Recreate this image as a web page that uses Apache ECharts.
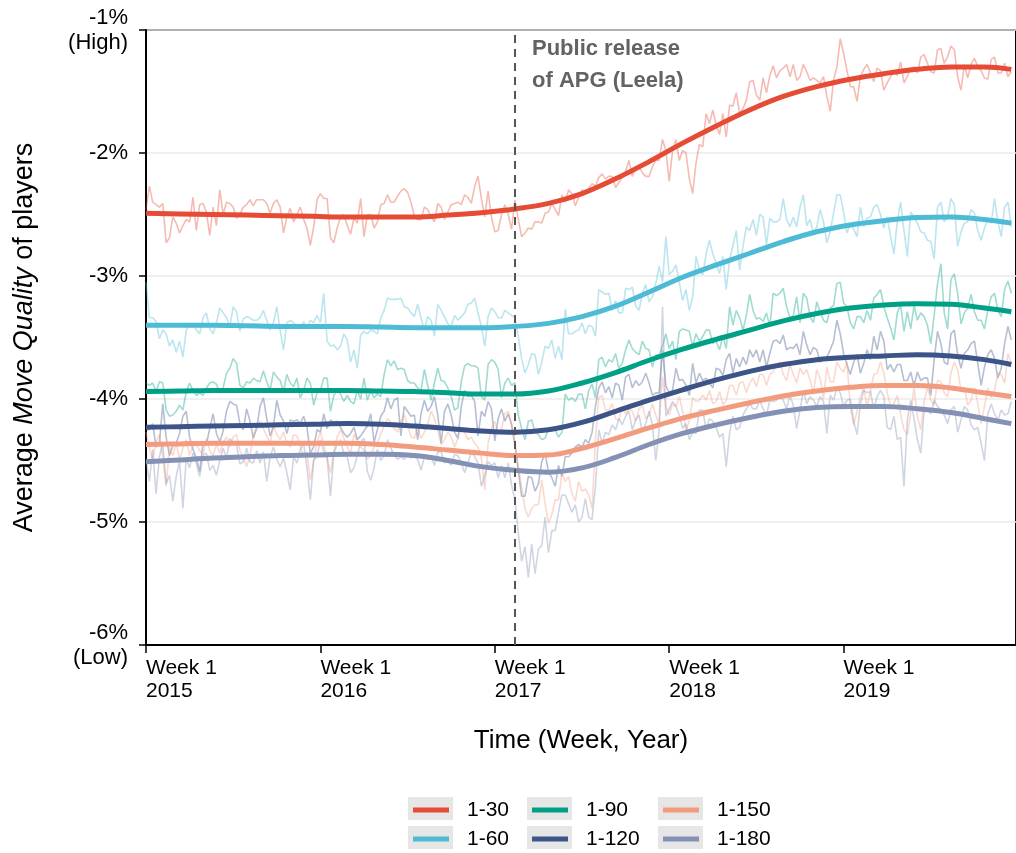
<!DOCTYPE html>
<html>
<head>
<meta charset="utf-8">
<title>Average Move Quality of players</title>
<script src="https://cdn.jsdelivr.net/npm/echarts@6/dist/echarts.min.js"></script>
<style>
html, body { margin: 0; padding: 0; background: #fff; }
#chartmain { width: 1016px; height: 853px; }
</style>
</head>
<body>
<div id="chartmain"></div>
<script>
// group names and colours
var seriesNames = ['1-30', '1-60', '1-90', '1-120', '1-150', '1-180'];
var colors = ['#E64B35', '#4DBBD5', '#00A087', '#3C5488', '#F39B7F', '#8491B4'];

// x axis: weeks counted from week 1 of 2015
var xTickLabels = ['Week 1\n2015', 'Week 1\n2016', 'Week 1\n2017', 'Week 1\n2018', 'Week 1\n2019'];
var yTickValues = [-6, -5, -4, -3, -2, -1];
var yTickLabels = ['-6%\n(Low)', '-5%', '-4%', '-3%', '-2%', '-1%\n(High)'];
var releaseWeek = 110;

// weekly averages (index = week)
var raw30 = [
  -2.46,-2.27,-2.40,-2.42,-2.44,-2.41,-2.73,-2.69,-2.52,-2.57,-2.65,-2.59,-2.54,
  -2.56,-2.36,-2.63,-2.42,-2.41,-2.48,-2.67,-2.44,-2.59,-2.30,-2.50,-2.40,-2.41,
  -2.44,-2.53,-2.50,-2.44,-2.42,-2.38,-2.43,-2.38,-2.38,-2.38,-2.41,-2.49,-2.41,
  -2.38,-2.44,-2.65,-2.52,-2.45,-2.56,-2.50,-2.44,-2.54,-2.61,-2.75,-2.60,-2.38,
  -2.33,-2.37,-2.37,-2.69,-2.73,-2.61,-2.52,-2.50,-2.59,-2.66,-2.53,-2.57,-2.37,
  -2.68,-2.50,-2.50,-2.61,-2.56,-2.42,-2.41,-2.34,-2.40,-2.40,-2.35,-2.31,-2.29,
  -2.32,-2.40,-2.51,-2.54,-2.54,-2.44,-2.46,-2.52,-2.56,-2.41,-2.44,-2.54,-2.48,
  -2.42,-2.41,-2.40,-2.42,-2.34,-2.36,-2.41,-2.27,-2.19,-2.37,-2.52,-2.31,-2.52,
  -2.64,-2.63,-2.50,-2.42,-2.50,-2.62,-2.38,-2.54,-2.68,-2.65,-2.61,-2.62,-2.56,
  -2.56,-2.57,-2.49,-2.48,-2.41,-2.46,-2.51,-2.34,-2.40,-2.30,-2.33,-2.43,-2.36,
  -2.30,-2.33,-2.29,-2.25,-2.27,-2.20,-2.17,-2.21,-2.19,-2.19,-2.28,-2.24,-2.20,
  -2.15,-2.06,-2.19,-2.12,-2.11,-2.16,-2.19,-2.19,-2.11,-2.06,-2.06,-1.89,-1.98,
  -2.23,-1.98,-1.89,-2.06,-1.98,-2.00,-2.21,-2.33,-2.08,-1.93,-1.95,-1.68,-1.76,
  -1.65,-1.77,-1.85,-1.68,-1.87,-1.61,-1.62,-1.51,-1.68,-1.64,-1.57,-1.42,-1.41,
  -1.53,-1.57,-1.39,-1.51,-1.37,-1.29,-1.39,-1.33,-1.31,-1.28,-1.38,-1.28,-1.41,
  -1.38,-1.28,-1.34,-1.41,-1.39,-1.41,-1.43,-1.38,-1.54,-1.66,-1.41,-1.30,-1.07,
  -1.19,-1.33,-1.46,-1.46,-1.58,-1.38,-1.32,-1.28,-1.35,-1.42,-1.31,-1.33,-1.49,
  -1.43,-1.38,-1.33,-1.37,-1.26,-1.43,-1.38,-1.31,-1.30,-1.35,-1.22,-1.20,-1.27,
  -1.34,-1.35,-1.16,-1.15,-1.27,-1.22,-1.13,-1.16,-1.38,-1.49,-1.28,-1.39,-1.28,
  -1.23,-1.30,-1.33,-1.39,-1.40,-1.24,-1.22,-1.35,-1.35,-1.27,-1.38,-1.34
];
var raw60 = [
  -3.05,-3.34,-3.34,-3.37,-3.51,-3.44,-3.47,-3.57,-3.52,-3.62,-3.53,-3.66,-3.44,
  -3.40,-3.39,-3.44,-3.47,-3.34,-3.30,-3.43,-3.47,-3.38,-3.26,-3.30,-3.34,-3.41,
  -3.25,-3.29,-3.45,-3.35,-3.33,-3.34,-3.36,-3.36,-3.34,-3.28,-3.36,-3.44,-3.38,
  -3.25,-3.44,-3.60,-3.38,-3.36,-3.38,-3.41,-3.43,-3.37,-3.43,-3.36,-3.38,-3.32,
  -3.38,-3.14,-3.53,-3.57,-3.56,-3.60,-3.57,-3.47,-3.52,-3.70,-3.60,-3.75,-3.48,
  -3.45,-3.47,-3.44,-3.45,-3.47,-3.34,-3.28,-3.18,-3.19,-3.19,-3.19,-3.18,-3.25,
  -3.26,-3.30,-3.33,-3.23,-3.34,-3.44,-3.33,-3.36,-3.49,-3.23,-3.28,-3.33,-3.39,
  -3.41,-3.32,-3.36,-3.33,-3.30,-3.23,-3.22,-3.18,-3.30,-3.41,-3.57,-3.33,-3.26,
  -3.29,-3.34,-3.34,-3.28,-3.30,-3.32,-3.34,-3.49,-3.67,-3.79,-3.72,-3.63,-3.64,
  -3.80,-3.70,-3.57,-3.59,-3.52,-3.67,-3.57,-3.68,-3.27,-3.47,-3.47,-3.45,-3.44,
  -3.38,-3.47,-3.40,-3.41,-3.49,-3.11,-3.13,-3.15,-3.14,-3.28,-3.20,-3.30,-3.30,
  -3.10,-3.11,-3.09,-3.24,-3.28,-3.14,-3.07,-3.21,-3.17,-3.06,-2.92,-3.05,-2.68,
  -2.99,-2.96,-2.91,-3.05,-3.20,-3.11,-3.28,-3.17,-2.84,-2.95,-2.99,-2.82,-2.71,
  -2.82,-2.90,-2.98,-2.84,-3.11,-2.87,-2.75,-2.63,-2.95,-2.76,-2.60,-2.63,-2.54,
  -2.67,-2.50,-2.52,-2.75,-2.53,-2.56,-2.56,-2.54,-2.37,-2.54,-2.60,-2.52,-2.60,
  -2.44,-2.34,-2.59,-2.54,-2.65,-2.60,-2.46,-2.56,-2.73,-2.64,-2.49,-2.34,-2.34,
  -2.48,-2.65,-2.57,-2.62,-2.68,-2.44,-2.60,-2.53,-2.52,-2.44,-2.42,-2.50,-2.61,
  -2.52,-2.68,-2.82,-2.56,-2.40,-2.63,-2.84,-2.48,-2.52,-2.57,-2.64,-2.65,-2.71,
  -2.72,-2.86,-2.44,-2.40,-2.56,-2.52,-2.37,-2.42,-2.76,-2.64,-2.57,-2.56,-2.46,
  -2.49,-2.63,-2.71,-2.61,-2.54,-2.57,-2.37,-2.56,-2.68,-2.44,-2.40,-2.60
];
var raw90 = [
  -3.87,-3.89,-3.87,-3.94,-3.86,-3.87,-4.09,-4.14,-4.13,-4.10,-4.05,-4.09,-3.94,
  -3.87,-3.93,-3.97,-3.95,-3.97,-3.91,-3.87,-3.86,-3.88,-3.95,-3.91,-3.79,-3.75,
  -3.67,-3.71,-3.89,-3.91,-3.86,-3.87,-3.83,-3.85,-3.86,-3.77,-3.86,-3.93,-3.78,
  -3.82,-3.85,-3.94,-3.80,-3.87,-3.90,-3.83,-3.99,-3.93,-3.83,-3.87,-4.05,-3.95,
  -3.93,-3.83,-3.83,-4.10,-3.97,-3.93,-3.96,-4.02,-3.97,-4.02,-4.04,-3.93,-4.00,
  -3.83,-4.01,-3.93,-3.99,-3.96,-3.98,-3.80,-3.68,-3.73,-3.69,-3.76,-3.75,-3.76,
  -3.85,-3.87,-3.87,-3.91,-3.93,-3.76,-3.89,-4.01,-3.87,-3.75,-3.85,-3.86,-3.91,
  -3.98,-4.09,-4.07,-3.86,-3.73,-3.71,-3.73,-3.73,-3.75,-3.98,-4.01,-3.72,-3.68,
  -3.70,-3.76,-3.99,-3.87,-3.83,-3.89,-3.87,-4.13,-4.24,-4.33,-4.18,-4.17,-4.27,
  -4.29,-4.33,-4.32,-4.24,-4.25,-4.25,-4.31,-4.27,-3.96,-4.01,-3.99,-4.02,-3.96,
  -3.96,-4.08,-3.93,-3.88,-3.99,-3.68,-3.66,-3.74,-3.68,-3.70,-3.63,-3.75,-3.71,
  -3.60,-3.52,-3.59,-3.62,-3.64,-3.53,-3.59,-3.60,-3.74,-3.64,-3.64,-3.57,-3.47,
  -3.59,-3.53,-3.68,-3.45,-3.43,-3.44,-3.45,-3.57,-3.47,-3.53,-3.49,-3.44,-3.44,
  -3.55,-3.53,-3.60,-3.49,-3.59,-3.25,-3.40,-3.28,-3.34,-3.44,-3.32,-3.15,-3.28,
  -3.35,-3.34,-3.37,-3.30,-3.41,-3.14,-3.16,-3.14,-3.10,-3.25,-3.34,-3.32,-3.17,
  -3.38,-3.14,-3.18,-3.33,-3.38,-3.21,-3.29,-3.36,-3.38,-3.26,-3.24,-3.06,-3.05,
  -3.22,-3.25,-3.38,-3.43,-3.33,-3.33,-3.38,-3.28,-3.36,-3.18,-3.15,-3.11,-3.25,
  -3.34,-3.42,-3.52,-3.30,-3.23,-3.45,-3.29,-3.43,-3.24,-3.36,-3.30,-3.33,-3.40,
  -3.55,-3.32,-3.06,-2.90,-3.30,-3.43,-3.03,-2.98,-3.14,-3.39,-3.30,-3.26,-3.15,
  -3.29,-3.36,-3.36,-3.43,-3.28,-3.17,-3.14,-3.28,-3.33,-3.11,-3.04,-3.14
];
var raw120 = [
  -4.25,-4.25,-4.20,-4.39,-4.36,-4.04,-4.31,-4.46,-4.38,-4.36,-4.28,-4.14,-4.10,
  -4.31,-4.41,-4.48,-4.59,-4.36,-4.37,-4.24,-4.12,-4.28,-4.35,-4.26,-4.10,-4.02,
  -4.04,-4.05,-4.20,-4.25,-4.08,-4.18,-4.32,-4.24,-4.06,-3.99,-4.16,-4.30,-4.22,
  -4.01,-4.13,-4.18,-4.28,-4.17,-4.18,-4.17,-4.20,-4.14,-4.23,-4.44,-4.39,-4.25,
  -4.27,-4.12,-4.24,-4.17,-4.19,-4.18,-4.23,-4.28,-4.31,-4.28,-4.23,-4.33,-4.30,
  -4.26,-4.22,-4.12,-4.35,-4.25,-4.14,-4.10,-3.99,-4.08,-4.01,-3.99,-4.30,-4.06,
  -4.10,-4.14,-4.13,-4.33,-4.12,-4.01,-4.10,-4.06,-3.98,-4.13,-4.36,-4.10,-4.04,
  -4.13,-4.27,-4.32,-4.06,-3.93,-3.98,-3.97,-4.02,-4.30,-4.10,-4.14,-4.02,-4.08,
  -4.34,-4.16,-4.08,-4.18,-4.12,-4.21,-4.37,-4.58,-4.79,-4.79,-4.63,-4.64,-4.75,
  -4.69,-4.51,-4.44,-4.59,-4.64,-4.71,-4.54,-4.63,-4.47,-4.47,-4.44,-4.39,-4.37,
  -4.39,-4.33,-4.36,-4.27,-4.06,-3.91,-3.86,-3.95,-3.90,-3.99,-3.87,-3.89,-4.01,
  -3.82,-3.80,-3.91,-3.85,-3.89,-3.86,-3.79,-3.87,-3.97,-3.95,-3.95,-3.60,-3.89,
  -3.95,-3.93,-3.75,-3.85,-3.84,-3.89,-3.97,-3.71,-3.87,-3.79,-3.85,-3.83,-3.87,
  -3.91,-3.75,-3.76,-3.81,-3.68,-3.63,-3.79,-3.67,-3.74,-3.66,-3.72,-3.60,-3.66,
  -3.60,-3.70,-3.60,-3.74,-3.63,-3.53,-3.52,-3.55,-3.48,-3.60,-3.58,-3.59,-3.55,
  -3.64,-3.45,-3.56,-3.64,-3.58,-3.60,-3.70,-3.68,-3.66,-3.60,-3.53,-3.36,-3.47,
  -3.63,-3.72,-3.80,-3.70,-3.64,-3.79,-3.71,-3.60,-3.68,-3.49,-3.60,-3.45,-3.53,
  -3.76,-3.72,-3.78,-3.72,-3.72,-3.85,-3.85,-3.78,-3.89,-3.78,-3.85,-3.83,-3.83,
  -3.97,-3.68,-3.45,-3.55,-3.70,-3.72,-3.47,-3.44,-3.64,-3.75,-3.63,-3.60,-3.55,
  -3.53,-3.71,-3.89,-3.74,-3.64,-3.60,-3.67,-3.83,-3.75,-3.55,-3.41,-3.52
];
var raw150 = [
  -4.27,-4.40,-4.49,-4.35,-4.29,-4.47,-4.71,-4.39,-4.46,-4.36,-4.49,-4.40,-4.33,
  -4.46,-4.38,-4.37,-4.42,-4.45,-4.32,-4.42,-4.46,-4.37,-4.44,-4.35,-4.31,-4.39,
  -4.31,-4.29,-4.42,-4.47,-4.55,-4.46,-4.29,-4.22,-4.18,-4.24,-4.30,-4.36,-4.22,
  -4.29,-4.33,-4.27,-4.36,-4.39,-4.29,-4.30,-4.38,-4.47,-4.43,-4.66,-4.50,-4.35,
  -4.27,-4.37,-4.48,-4.60,-4.43,-4.31,-4.25,-4.32,-4.39,-4.44,-4.29,-4.34,-4.39,
  -4.42,-4.49,-4.46,-4.39,-4.36,-4.28,-4.22,-4.16,-4.19,-4.24,-4.27,-4.18,-4.13,
  -4.21,-4.31,-4.32,-4.23,-4.32,-4.27,-4.20,-4.10,-4.16,-4.26,-4.37,-4.33,-4.27,
  -4.31,-4.39,-4.32,-4.24,-4.27,-4.33,-4.31,-4.36,-4.39,-4.48,-4.74,-4.36,-4.24,
  -4.18,-4.29,-4.24,-4.12,-4.10,-4.20,-4.36,-4.55,-4.71,-4.89,-4.96,-4.89,-4.86,
  -4.86,-4.66,-4.85,-5.01,-4.94,-4.82,-4.82,-4.60,-4.67,-4.63,-4.77,-4.83,-4.67,
  -4.75,-4.73,-4.78,-4.89,-4.33,-3.99,-3.97,-4.09,-4.09,-4.04,-4.16,-4.17,-4.06,
  -4.12,-4.08,-4.10,-4.18,-4.08,-4.05,-4.16,-4.13,-4.04,-4.13,-4.21,-3.82,-4.06,
  -4.13,-4.04,-4.06,-3.98,-4.10,-4.25,-4.18,-3.99,-4.02,-4.01,-3.97,-4.01,-3.93,
  -4.04,-4.02,-3.94,-4.05,-4.01,-3.89,-3.89,-3.97,-3.87,-3.86,-3.95,-3.87,-3.83,
  -3.90,-3.80,-3.80,-3.89,-3.80,-3.78,-3.72,-3.70,-3.80,-3.85,-3.72,-3.80,-3.87,
  -3.75,-3.80,-3.76,-3.85,-3.95,-3.76,-3.83,-4.00,-3.74,-3.86,-3.86,-3.70,-3.75,
  -3.78,-3.70,-4.06,-4.21,-4.10,-3.98,-3.91,-4.06,-3.94,-3.80,-3.79,-3.70,-3.79,
  -3.95,-4.06,-4.04,-3.97,-4.12,-4.25,-4.29,-4.12,-3.91,-4.14,-4.25,-4.02,-3.90,
  -4.01,-4.05,-3.85,-3.86,-3.95,-3.98,-3.79,-3.70,-3.76,-3.93,-3.91,-4.05,-4.01,
  -3.91,-4.04,-4.20,-4.06,-3.91,-3.99,-3.93,-3.79,-3.80,-3.87,-3.63,-3.71
];
var raw180 = [
  -4.50,-4.67,-4.41,-4.77,-4.47,-4.36,-4.69,-4.62,-4.83,-4.63,-4.50,-4.89,-4.48,
  -4.56,-4.44,-4.52,-4.63,-4.46,-4.44,-4.58,-4.54,-4.62,-4.50,-4.40,-4.48,-4.32,
  -4.36,-4.37,-4.53,-4.51,-4.40,-4.51,-4.52,-4.42,-4.52,-4.43,-4.67,-4.47,-4.39,
  -4.49,-4.55,-4.48,-4.60,-4.74,-4.47,-4.52,-4.41,-4.36,-4.56,-4.82,-4.50,-4.47,
  -4.33,-4.43,-4.47,-4.79,-4.44,-4.37,-4.33,-4.45,-4.47,-4.60,-4.56,-4.46,-4.35,
  -4.32,-4.59,-4.66,-4.56,-4.41,-4.50,-4.46,-4.33,-4.40,-4.46,-4.49,-4.47,-4.49,
  -4.45,-4.48,-4.47,-4.49,-4.58,-4.47,-4.49,-4.47,-4.54,-4.43,-4.43,-4.52,-4.50,
  -4.54,-4.45,-4.46,-4.52,-4.60,-4.52,-4.43,-4.47,-4.52,-4.71,-4.62,-4.51,-4.54,
  -4.52,-4.64,-4.54,-4.64,-4.52,-4.70,-4.82,-5.09,-5.32,-5.20,-5.45,-5.18,-5.42,
  -5.22,-5.19,-4.96,-5.25,-5.07,-5.07,-4.92,-4.78,-4.78,-4.85,-4.92,-4.86,-5.00,
  -4.96,-4.81,-4.96,-4.98,-4.71,-4.25,-4.36,-4.27,-4.29,-4.21,-4.25,-4.16,-4.21,
  -4.14,-4.10,-4.25,-4.17,-4.13,-4.27,-4.20,-4.10,-4.21,-4.50,-4.25,-3.25,-4.14,
  -4.08,-4.02,-4.06,-4.13,-4.24,-4.20,-4.33,-4.27,-4.28,-4.09,-4.09,-4.25,-4.16,
  -4.18,-4.23,-4.31,-4.28,-4.55,-4.28,-4.14,-4.25,-4.23,-4.13,-4.08,-4.04,-4.08,
  -4.08,-4.01,-4.08,-4.13,-4.01,-4.02,-4.01,-3.97,-4.01,-4.08,-3.97,-4.05,-4.24,
  -4.09,-3.93,-4.04,-3.98,-4.01,-4.06,-3.98,-4.02,-4.28,-3.97,-4.01,-3.91,-3.95,
  -4.06,-4.01,-4.00,-4.18,-4.29,-4.04,-3.93,-3.95,-3.94,-4.08,-3.98,-3.93,-3.98,
  -4.23,-4.25,-4.14,-4.33,-4.31,-4.71,-4.17,-4.01,-4.16,-4.33,-4.44,-4.10,-4.09,
  -4.12,-4.01,-4.06,-4.09,-4.13,-4.20,-4.09,-4.06,-4.27,-4.17,-4.06,-4.09,-4.21,
  -4.25,-4.23,-4.36,-4.50,-4.12,-4.04,-4.12,-4.17,-4.09,-4.13,-4.12,-4.02
];

// smoothed trend, read every 10 weeks
var smoothWeeks = [0, 10, 20, 30, 40, 50, 60, 70, 80, 90, 100, 110, 120, 130, 140, 150, 160, 170, 180, 190, 200, 210, 220, 230, 240, 250, 258];
var smooth30  = [-2.49,-2.495,-2.50,-2.505,-2.51,-2.515,-2.52,-2.52,-2.52,-2.505,-2.485,-2.455,-2.41,-2.33,-2.21,-2.07,-1.92,-1.78,-1.65,-1.54,-1.46,-1.40,-1.355,-1.32,-1.30,-1.30,-1.32];
var smooth60  = [-3.40,-3.40,-3.40,-3.405,-3.41,-3.41,-3.41,-3.415,-3.42,-3.42,-3.42,-3.41,-3.385,-3.33,-3.245,-3.13,-3.01,-2.91,-2.815,-2.72,-2.64,-2.585,-2.55,-2.525,-2.52,-2.54,-2.57];
var smooth90  = [-3.94,-3.935,-3.93,-3.93,-3.93,-3.93,-3.93,-3.935,-3.94,-3.95,-3.96,-3.96,-3.935,-3.87,-3.785,-3.685,-3.595,-3.515,-3.44,-3.365,-3.305,-3.26,-3.235,-3.225,-3.23,-3.26,-3.29];
var smooth120 = [-4.23,-4.225,-4.22,-4.215,-4.21,-4.205,-4.20,-4.205,-4.22,-4.24,-4.26,-4.27,-4.25,-4.19,-4.10,-4.01,-3.925,-3.845,-3.775,-3.72,-3.68,-3.66,-3.65,-3.64,-3.65,-3.68,-3.72];
var smooth150 = [-4.37,-4.365,-4.36,-4.36,-4.36,-4.36,-4.36,-4.37,-4.39,-4.415,-4.44,-4.46,-4.455,-4.40,-4.32,-4.235,-4.155,-4.09,-4.03,-3.975,-3.935,-3.905,-3.89,-3.89,-3.91,-3.95,-3.98];
var smooth180 = [-4.51,-4.495,-4.48,-4.47,-4.46,-4.455,-4.45,-4.45,-4.46,-4.50,-4.55,-4.58,-4.595,-4.56,-4.475,-4.37,-4.28,-4.21,-4.15,-4.10,-4.07,-4.06,-4.06,-4.08,-4.11,-4.16,-4.20];

// half width of the confidence band at the same weeks
var band30  = [0.07,0.055,0.045,0.04,0.035,0.035,0.035,0.035,0.035,0.035,0.035,0.035,0.035,0.035,0.035,0.035,0.035,0.035,0.035,0.035,0.035,0.035,0.035,0.04,0.045,0.055,0.07];
var band60  = [0.07,0.055,0.045,0.04,0.035,0.035,0.035,0.035,0.035,0.035,0.035,0.035,0.035,0.035,0.035,0.035,0.035,0.035,0.035,0.035,0.035,0.035,0.035,0.04,0.045,0.055,0.07];
var band90  = [0.08,0.065,0.055,0.045,0.04,0.04,0.04,0.04,0.04,0.04,0.04,0.04,0.04,0.04,0.04,0.04,0.04,0.04,0.04,0.04,0.04,0.04,0.04,0.045,0.055,0.065,0.08];
var band120 = [0.08,0.065,0.055,0.045,0.04,0.04,0.04,0.04,0.04,0.04,0.04,0.04,0.04,0.04,0.04,0.04,0.04,0.04,0.04,0.04,0.04,0.04,0.04,0.045,0.055,0.065,0.08];
var band150 = [0.09,0.07,0.06,0.05,0.045,0.045,0.045,0.045,0.045,0.045,0.045,0.045,0.045,0.045,0.045,0.045,0.045,0.045,0.045,0.045,0.045,0.045,0.045,0.05,0.06,0.07,0.09];
var band180 = [0.11,0.09,0.075,0.065,0.055,0.055,0.055,0.055,0.055,0.055,0.055,0.055,0.055,0.055,0.055,0.055,0.055,0.055,0.055,0.055,0.055,0.055,0.055,0.065,0.075,0.09,0.11];

(function() {

var rawList = [raw30, raw60, raw90, raw120, raw150, raw180];
var smoothList = [smooth30, smooth60, smooth90, smooth120, smooth150, smooth180];
var bandList = [band30, band60, band90, band120, band150, band180];
var font = '"Liberation Sans", Arial, sans-serif';

var series = [];

// faint weekly lines
for (var k = 0; k < rawList.length; k++) {
    series.push({
        name: 'weekly ' + seriesNames[k],
        type: 'line',
        data: rawList[k].map(function(v, i) { return [i, v]; }),
        symbol: 'none',
        silent: true,
        lineStyle: { color: colors[k], width: 1.6, opacity: 0.38 },
        itemStyle: { color: colors[k] },
        z: 1
    });
}
series[0].markLine = {
    symbol: 'none',
    silent: true,
    label: { show: false },
    lineStyle: { color: '#555', type: [8, 6], width: 2, opacity: 1 },
    data: [{ xAxis: releaseWeek }]
};

// grey confidence bands
for (var k = 0; k < smoothList.length; k++) {
    var sm = smoothList[k], bd = bandList[k];
    series.push({
        name: 'lower ' + seriesNames[k],
        type: 'line',
        stack: 'band' + k,
        stackStrategy: 'all',
        smooth: 0.4,
        symbol: 'none',
        silent: true,
        data: sm.map(function(v, i) { return [smoothWeeks[i], v - bd[i]]; }),
        lineStyle: { opacity: 0 },
        z: 2
    });
    series.push({
        name: 'band ' + seriesNames[k],
        type: 'line',
        stack: 'band' + k,
        stackStrategy: 'all',
        smooth: 0.4,
        symbol: 'none',
        silent: true,
        data: sm.map(function(v, i) { return [smoothWeeks[i], 2 * bd[i]]; }),
        lineStyle: { opacity: 0 },
        areaStyle: { color: 'rgba(150,150,150,0.35)' },
        z: 2
    });
}

// trend lines
for (var k = 0; k < smoothList.length; k++) {
    series.push({
        name: seriesNames[k],
        type: 'line',
        smooth: 0.4,
        symbol: 'none',
        data: smoothList[k].map(function(v, i) { return [smoothWeeks[i], v]; }),
        lineStyle: { color: colors[k], width: 5 },
        itemStyle: { color: colors[k] },
        z: 3
    });
}

// legend: 3 columns x 2 rows, read down the columns
var legendCols = [413, 532, 663];
var legendRows = [798, 827];
var legends = [], keys = [];
for (var k = 0; k < seriesNames.length; k++) {
    var col = Math.floor(k / 2), row = k % 2;
    legends.push({
        data: [seriesNames[k]],
        left: legendCols[col],
        top: legendRows[row],
        padding: 0,
        icon: 'rect',
        itemWidth: 36,
        itemHeight: 5,
        selectedMode: false,
        textStyle: { fontSize: 21, color: '#000', fontFamily: font, padding: [0, 0, 0, 13], lineHeight: 24 }
    });
    keys.push({
        type: 'rect',
        left: legendCols[col] - 5,
        top: legendRows[row] - 1,
        shape: { width: 45, height: 23 },
        style: { fill: '#e6e6e6' },
        z: -1
    });
}

var option = {
    animation: false,
    backgroundColor: '#fff',
    textStyle: { fontFamily: font },
    grid: {
        left: 146, right: -3, top: 30, bottom: 208,
        show: true, borderColor: '#000', borderWidth: 2
    },
    legend: legends,
    graphic: keys.concat([{
        type: 'text',
        left: 532,
        top: 33,
        style: {
            text: 'Public release\nof APG (Leela)',
            fill: '#636363',
            font: 'bold 22px ' + font,
            lineHeight: 32
        },
        z: 10
    }]),
    xAxis: {
        type: 'value',
        min: 0,
        max: 259.4,
        interval: 52,
        axisLine: { lineStyle: { color: '#000', width: 2 } },
        axisTick: { length: 8, lineStyle: { color: '#000', width: 1.5 } },
        splitLine: { show: false },
        axisLabel: {
            showMaxLabel: false,
            align: 'left',
            margin: 12,
            fontSize: 21,
            lineHeight: 23,
            color: '#000',
            formatter: function(v) {
                var i = Math.round(v / 52);
                return (Math.abs(v - i * 52) < 0.01 && xTickLabels[i]) ? xTickLabels[i] : '';
            }
        },
        name: 'Time (Week, Year)',
        nameLocation: 'middle',
        nameGap: 83,
        nameTextStyle: { fontSize: 26, color: '#000' }
    },
    yAxis: {
        type: 'value',
        min: -6,
        max: -1,
        interval: 1,
        axisLine: { show: true, lineStyle: { color: '#000', width: 2 } },
        axisTick: { show: true, length: 7, lineStyle: { color: '#000', width: 1.5 } },
        splitLine: { lineStyle: { color: '#ebebeb', width: 1.5 } },
        axisLabel: {
            fontSize: 22,
            lineHeight: 25,
            color: '#000',
            margin: 18,
            formatter: function(v) {
                var i = yTickValues.indexOf(Math.round(v));
                return i >= 0 ? yTickLabels[i] : '';
            }
        },
        name: 'Average {i|Move Quality} of players',
        nameLocation: 'middle',
        nameRotate: 90,
        nameGap: 108,
        nameTextStyle: {
            fontSize: 27,
            color: '#000',
            rich: { i: { fontStyle: 'italic', fontSize: 27, color: '#000' } }
        }
    },
    series: series
};

var myChart = echarts.init(document.getElementById('chartmain'));
myChart.setOption(option);
})();
</script>
</body>
</html>
